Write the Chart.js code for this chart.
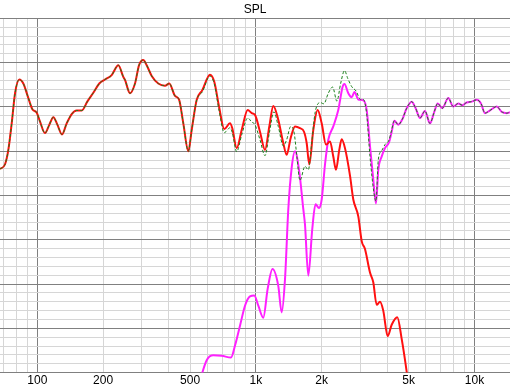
<!DOCTYPE html>
<html>
<head>
<meta charset="utf-8">
<script src="https://cdn.jsdelivr.net/npm/chart.js@4.4.1/dist/chart.umd.min.js"></script>
<style>
  html, body { margin: 0; padding: 0; background: #fff; }
  #spl { display: block; }
</style>
</head>
<body>
<canvas id="spl" width="510" height="389"></canvas>
<script>
// frequency (Hz) / level (dB)
var wooferHz = [67.5, 71.1, 73.7, 76.4, 79.1, 82.7, 86.3, 91.0, 94.9, 99.4, 102.9, 108.4, 113.5, 118.4, 123.5, 129.7, 136.3, 143.7, 151.4, 159.7, 169.3, 180.4, 192.1, 204.0, 218.9, 234.7, 247.4, 251.9, 265.5, 279.9, 291.9, 305.4, 316.6, 333.7, 357.7, 383.9, 401.6, 426.5, 444.8, 465.5, 490.7, 508.5, 536.1, 568.6, 616.6, 645.2, 678.0, 716.9, 761.2, 779.8, 817.0, 861.0, 917.4, 956.8, 990.6, 1044, 1101, 1152, 1201, 1266, 1335, 1383, 1443, 1510, 1591, 1660, 1708, 1755, 1831, 1917, 2000, 2093, 2183, 2260, 2325, 2407, 2469, 2556, 2695, 2790, 2941, 3048, 3156, 3327, 3444, 3569, 3696, 3826, 4008, 4181, 4436, 4645, 4896, 5070];
var wooferDb = [66.0, 67.0, 70.3, 76.4, 83.1, 86.2, 85.3, 82.0, 79.5, 78.7, 76.7, 74.1, 76.0, 77.7, 76.0, 73.8, 76.3, 78.4, 79.2, 79.2, 81.2, 83.2, 85.3, 86.2, 87.2, 89.4, 86.8, 86.1, 83.1, 85.3, 89.4, 90.6, 89.4, 87.0, 85.3, 84.8, 85.3, 82.5, 81.7, 76.3, 70.0, 74.8, 81.6, 83.8, 87.3, 85.7, 80.1, 75.0, 76.3, 75.2, 70.7, 74.8, 79.3, 78.6, 78.2, 74.4, 70.3, 75.6, 80.2, 77.1, 71.8, 69.2, 73.0, 75.6, 75.2, 74.4, 71.8, 67.0, 74.8, 79.3, 76.3, 71.5, 72.2, 68.8, 65.8, 70.3, 72.7, 70.7, 64.5, 59.1, 55.3, 49.7, 47.9, 42.6, 40.4, 35.3, 36.0, 34.0, 28.2, 30.8, 32.5, 27.6, 20.2, 14.2];

var tweeterHz = [549.3, 595.6, 638.5, 697.6, 769.3, 802.4, 845.9, 891.7, 939.7, 983.3, 1026, 1081, 1132, 1191, 1266, 1312, 1359, 1407, 1458, 1510, 1579, 1648, 1677, 1737, 1811, 1874, 1944, 2000, 2071, 2144, 2260, 2382, 2495, 2543, 2647, 2743, 2826, 2941, 3100, 3213, 3327, 3444, 3544, 3631, 3763, 3896, 4063, 4181, 4297, 4482, 4675, 4896, 5161, 5383, 5634, 5937, 6258, 6548, 6787, 7123, 7591, 7998, 8432, 8795, 9210, 9710, 10235, 10708, 11170, 11776, 12635, 13321, 14044, 14539];
var tweeterDb = [17.5, 22.8, 23.9, 23.8, 23.4, 26.1, 30.6, 35.1, 37.2, 37.4, 35.1, 32.4, 38.9, 43.4, 39.6, 33.6, 41.1, 56.9, 66.3, 70.0, 65.4, 56.9, 53.5, 41.9, 52.4, 58.0, 57.2, 59.1, 67.0, 72.6, 75.6, 79.3, 84.6, 85.2, 83.1, 82.2, 83.4, 81.7, 81.5, 79.3, 71.1, 63.6, 58.2, 65.8, 68.8, 70.7, 72.0, 74.4, 76.9, 76.0, 77.2, 79.7, 81.2, 79.7, 77.5, 79.1, 76.3, 78.9, 80.8, 79.7, 82.0, 80.1, 80.8, 80.4, 81.0, 81.2, 81.6, 80.8, 78.6, 79.2, 80.1, 78.9, 78.6, 78.8];

var sumHz = [67.5, 71.1, 73.7, 76.4, 79.1, 82.7, 86.3, 91.0, 94.9, 99.4, 102.9, 108.4, 113.5, 118.4, 123.5, 129.7, 136.3, 143.7, 151.4, 159.7, 169.3, 180.4, 192.1, 204.0, 218.9, 234.7, 247.4, 251.9, 265.5, 279.9, 291.9, 305.4, 316.6, 333.7, 357.7, 383.9, 401.6, 426.5, 444.8, 465.5, 490.7, 508.5, 536.1, 568.6, 616.6, 645.2, 678.0, 716.9, 761.2, 779.8, 817.0, 861.0, 917.4, 956.8, 990.6, 1044, 1101, 1152, 1209, 1266, 1335, 1383, 1443, 1497, 1540, 1591, 1677, 1737, 1800, 1864, 1972, 2045, 2144, 2245, 2348, 2442, 2543, 2634, 2743, 2873, 3013, 3100, 3213, 3327, 3468, 3544, 3631, 3763, 3896, 4063, 4181, 4297, 4482, 4675, 4896, 5161, 5383, 5634, 5937, 6258, 6548, 6787, 7123, 7591, 7998, 8432, 8795, 9210, 9710, 10235, 10708, 11170, 11776, 12635, 13321, 14044, 14539];
var sumDb = [66.0, 67.0, 70.3, 76.4, 83.1, 86.2, 85.3, 82.0, 79.5, 78.7, 76.7, 74.1, 76.0, 77.7, 76.0, 73.8, 76.3, 78.4, 79.2, 79.2, 81.2, 83.2, 85.3, 86.2, 87.2, 89.4, 86.8, 86.1, 83.1, 85.3, 89.4, 90.6, 89.4, 87.0, 85.3, 84.8, 85.3, 82.5, 81.7, 76.3, 70.0, 74.8, 81.6, 83.4, 87.0, 85.2, 79.3, 74.2, 75.3, 74.2, 69.9, 73.7, 77.5, 76.6, 76.0, 72.6, 69.0, 74.1, 78.9, 75.6, 71.2, 72.6, 75.6, 74.1, 68.8, 63.4, 66.6, 65.8, 71.8, 78.6, 81.0, 80.7, 83.1, 84.5, 81.3, 85.3, 88.2, 86.4, 84.6, 83.6, 81.7, 81.7, 78.4, 68.8, 60.6, 58.7, 68.1, 70.1, 71.5, 72.5, 74.8, 76.9, 76.0, 77.2, 79.7, 81.2, 79.7, 77.5, 79.1, 76.3, 78.9, 80.8, 79.7, 82.0, 80.1, 80.8, 80.4, 81.0, 81.2, 81.6, 80.8, 78.6, 79.2, 80.1, 78.9, 78.6, 78.8];

var gridHz = [70, 80, 90, 100, 200, 300, 400, 500, 600, 700, 800, 900, 1000, 2000, 3000, 4000, 5000, 6000, 7000, 8000, 9000, 10000];
var labelHz = [100, 200, 500, 1000, 2000, 5000, 10000];
var tickText = ['100', '200', '500', '1k', '2k', '5k', '10k'];

function points(xs, ys) {
    return xs.map(function (x, i) { return { x: x, y: ys[i] }; });
}

var majorHz = [100, 1000, 10000];

new Chart(document.getElementById('spl'), {
    type: 'line',
    data: {
        datasets: [{
            label: 'Sum',
            data: points(sumHz, sumDb),
            borderColor: '#1a801a',
            borderWidth: 1,
            borderDash: [3, 2],
            pointRadius: 0,
            cubicInterpolationMode: 'monotone'
        }, {
            label: 'Woofer',
            data: points(wooferHz, wooferDb),
            borderColor: '#ff1010',
            borderWidth: 2,
            pointRadius: 0,
            cubicInterpolationMode: 'monotone'
        }, {
            label: 'Tweeter',
            data: points(tweeterHz, tweeterDb),
            borderColor: '#ff20ff',
            borderWidth: 2,
            pointRadius: 0,
            cubicInterpolationMode: 'monotone'
        }]
    },
    options: {
        responsive: false,
        animation: false,
        layout: { padding: 0 },
        plugins: {
            legend: { display: false },
            tooltip: { enabled: false },
            title: {
                display: true,
                text: 'SPL',
                color: '#000',
                font: { family: 'Liberation Sans', size: 12, weight: 'normal' },
                padding: { top: 2, bottom: 2 }
            }
        },
        scales: {
            x: {
                type: 'logarithmic',
                min: 67.5,
                max: 14540,
                afterBuildTicks: function (axis) {
                    axis.ticks = gridHz.map(function (v) { return { value: v }; });
                },
                ticks: {
                    autoSkip: false,
                    maxRotation: 0,
                    padding: 1,
                    color: '#000',
                    font: { family: 'Liberation Sans', size: 12 },
                    callback: function (value) {
                        var i = labelHz.indexOf(value);
                        return i >= 0 ? tickText[i] : '';
                    }
                },
                grid: {
                    drawTicks: false,
                    color: function (ctx) {
                        return ctx.tick && majorHz.indexOf(ctx.tick.value) >= 0 ? '#808080' : '#d6d6d6';
                    }
                },
                border: { display: false }
            },
            y: {
                min: 20,
                max: 100,
                ticks: { display: false, stepSize: 2 },
                grid: {
                    drawTicks: false,
                    color: function (ctx) {
                        return ctx.tick && ctx.tick.value % 10 === 0 ? '#808080' : '#d6d6d6';
                    }
                },
                border: { display: false }
            }
        }
    }
});
</script>
</body>
</html>
